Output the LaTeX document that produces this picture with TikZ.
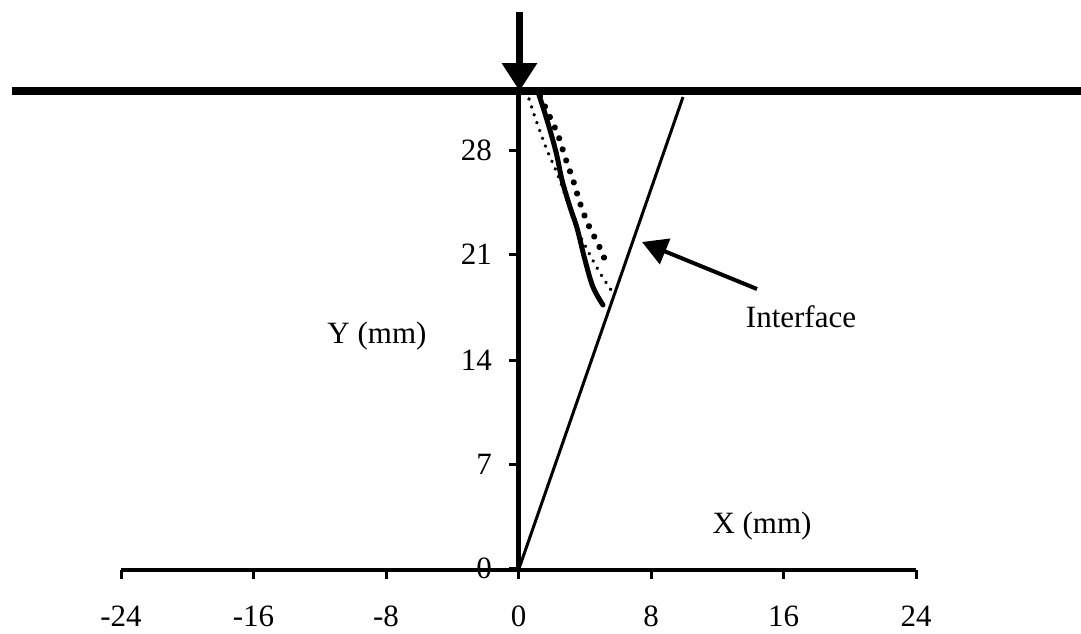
\documentclass[tikz,border=0pt]{standalone}
\usepackage{fontspec}
\setmainfont{Liberation Serif}
\usetikzlibrary{arrows.meta}
\begin{document}
\begin{tikzpicture}[x=1pt,y=-1pt,
  lbl/.style={inner sep=0pt,font=\fontsize{31}{36}\selectfont},
  xlbl/.style={lbl,anchor=base},
  ylbl/.style={lbl,anchor=base east},
  axisline/.style={line width=4pt},
  tickmark/.style={line width=3pt},
  solidcurve/.style={line width=5pt,line cap=round,line join=round},
  bigdots/.style={line width=6.2pt,line cap=round,dash pattern=on 0.01pt off 11.6pt},
  smalldots/.style={line width=3.8pt,line cap=round,dash pattern=on 0.01pt off 8.3pt}]
\useasboundingbox (0,0) rectangle (1081,633);
\fill[white] (0,0) rectangle (1081,633);
% coordinates
\coordinate (origin) at (518.5,570);
\coordinate (ytop) at (518.5,91);
\coordinate (xleft) at (121,570);
\coordinate (xright) at (916,570);
\coordinate (surfL) at (12,91);
\coordinate (surfR) at (1081,91);
\coordinate (loadtop) at (519.5,12);
\coordinate (loadtip) at (519.5,91);
\coordinate (ifbot) at (518.5,570);
\coordinate (iftop) at (683,97);
% surface line
\draw[line width=8pt] (surfL) -- (surfR);
% x axis
\draw[axisline] (xleft) -- (xright);
\foreach \xx/\tl in {121/-24,253.5/-16,386/-8,518.5/0,651/8,783.5/16,916/24}{
  \draw[tickmark] (\xx,570) -- (\xx,579);
  \node[xlbl] (xt\tl) at (\xx,626) {\tl};
}
% y axis
\draw[line width=5.5pt] (origin) -- (ytop);
\foreach \yy/\tl in {568/0,464/7,360/14,254/21,150/28}{
  \draw[tickmark] (509,\yy) -- (518.5,\yy);
  \node[ylbl] (yt\tl) at (492,\yy+10.5) {\tl};
}
% interface line
\draw[line width=3pt] (ifbot) -- (iftop);
% load arrow
\draw[line width=6.5pt,-{Triangle[length=28pt,width=34pt]}] (loadtop) -- (loadtip);
% curves
\draw[solidcurve] plot[smooth,tension=0.6] coordinates {(538,92) (547,120) (556,152) (562,180) (570,207) (577,228) (585,260) (593,287) (603,305)};
\draw[bigdots] plot[smooth,tension=0.6] coordinates {(540,96) (548,113) (558,135) (565,157) (573,180) (580,203) (588,224) (599,246) (608,267)};
\draw[smalldots] plot[smooth,tension=0.6] coordinates {(529,99) (537,123) (547,150) (557,173) (567,200) (577,229) (589,253) (600,273) (611,290)};
% labels
\node[xlbl] (ylabel) at (377,343) {Y (mm)};
\node[xlbl] (xlabel) at (762,533) {X (mm)};
\node[xlbl] (iflabel) at (801,327) {Interface};
\coordinate (ifarrtail) at (757,289);
\coordinate (ifarrtip) at (642,242);
\draw[line width=4pt,-{Triangle[length=25pt,width=27pt]}] (ifarrtail) -- (ifarrtip);
\end{tikzpicture}
\end{document}
